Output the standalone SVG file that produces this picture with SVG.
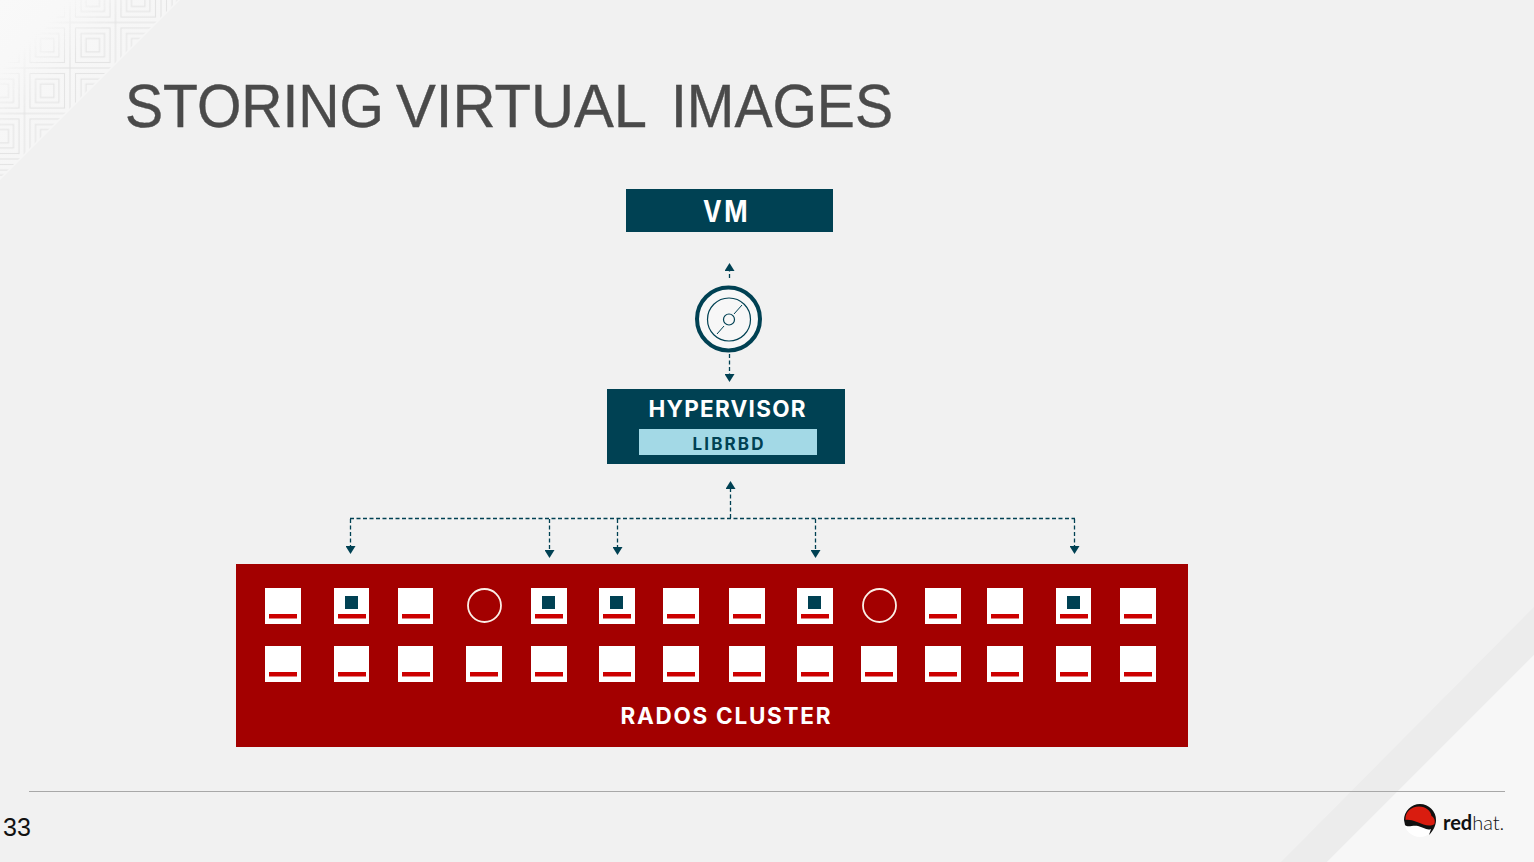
<svg xmlns="http://www.w3.org/2000/svg" xmlns:xlink="http://www.w3.org/1999/xlink" width="1534" height="862" viewBox="0 0 1534 862">
<style>
text{font-family:Inter,"Liberation Sans",sans-serif;font-weight:700;text-anchor:middle;fill:#fff}
.title{font-family:"Liberation Sans",Arial,sans-serif;font-weight:400;font-size:62px;fill:#4a4a4a;text-anchor:start;stroke:#4a4a4a;stroke-width:.4}
.navy{fill:#004153}
.conn{fill:none;stroke:#004153;stroke-width:1.3;stroke-dasharray:4 2.5}
.w{fill:#fff}
.bar{fill:#cc0000}
.ring{fill:none;stroke:#fbeee6;stroke-width:1.8}
.tile{fill:none;stroke:#e2e2e2;stroke-width:1}
</style>
<defs>
<marker id="arr" viewBox="0 0 8 10" refX="0" refY="5" markerWidth="8" markerHeight="10" markerUnits="userSpaceOnUse" orient="auto"><path d="M0 0L8 5L0 10Z" fill="#004153"/></marker>
<linearGradient id="tl" x1="0" y1="0" x2="1" y2="1"><stop offset="0" stop-color="#f9f9f9"/><stop offset="0.5" stop-color="#f6f6f6"/><stop offset="1" stop-color="#f2f2f2"/></linearGradient>
<linearGradient id="fade" gradientUnits="userSpaceOnUse" x1="35" y1="35" x2="80" y2="80"><stop offset="0" stop-color="#000"/><stop offset="0.7" stop-color="#fff"/></linearGradient>
<mask id="fm" maskUnits="userSpaceOnUse" x="0" y="0" width="200" height="200"><rect width="200" height="200" fill="url(#fade)"/></mask>
<clipPath id="tri"><path d="M0 0H178L0 178Z"/></clipPath>
<pattern id="geo" patternUnits="userSpaceOnUse" x="24.5" y="22.5" width="45.5" height="45.5">
<rect class="tile" x="0" y="0" width="45.5" height="45.5"/>
<rect class="tile" x="5.5" y="5.5" width="34.5" height="34.5"/>
<rect class="tile" x="11" y="11" width="23.5" height="23.5"/>
<rect class="tile" x="16" y="16" width="13.5" height="13.5"/>
</pattern>
<g id="disk"><rect class="w" width="36" height="36"/><rect class="bar" x="4" y="26" width="28" height="4.5"/></g>
<g id="diskb"><rect class="w" width="36" height="36"/><rect class="bar" x="4" y="26" width="28" height="4.5"/><rect class="navy" x="11" y="8" width="13" height="13"/></g>
<g id="disk35"><rect class="w" width="35" height="36"/><rect class="bar" x="4" y="26" width="28" height="4.5"/></g>
<g id="diskb35"><rect class="w" width="35" height="36"/><rect class="bar" x="4" y="26" width="28" height="4.5"/><rect class="navy" x="11" y="8" width="13" height="13"/></g>
</defs>

<rect id="background" width="1534" height="862" fill="#f1f1f1"/>
<path d="M0 0H180L0 180Z" fill="url(#tl)"/>
<g clip-path="url(#tri)"><rect width="180" height="180" fill="url(#geo)" mask="url(#fm)"/></g>
<path d="M1534 607V655L1327 862H1281Z" fill="#ececec"/>
<path d="M1534 655V862H1327Z" fill="#f7f7f7"/>

<text class="title" y="127"><tspan x="125" textLength="259" lengthAdjust="spacingAndGlyphs">STORING</tspan><tspan x="396" textLength="251" lengthAdjust="spacingAndGlyphs">VIRTUAL</tspan><tspan x="671" textLength="222" lengthAdjust="spacingAndGlyphs">IMAGES</tspan></text>

<g id="connectors">
<path class="conn" d="M729.5 278V271" marker-end="url(#arr)"/>
<path class="conn" d="M729.5 354V374" marker-end="url(#arr)"/>
<path class="conn" d="M730.5 518V489" marker-end="url(#arr)"/>
<path class="conn" d="M350 518.5H1075"/>
<path class="conn" d="M350.5 519V546" marker-end="url(#arr)"/>
<path class="conn" d="M549.5 519V550" marker-end="url(#arr)"/>
<path class="conn" d="M617.5 519V547" marker-end="url(#arr)"/>
<path class="conn" d="M815.5 519V550" marker-end="url(#arr)"/>
<path class="conn" d="M1074.5 519V546" marker-end="url(#arr)"/>
</g>

<g id="vm"><rect class="navy" x="626" y="189" width="207" height="43"/><text x="726.5" y="222" font-size="30" letter-spacing="3" textLength="47" lengthAdjust="spacingAndGlyphs">VM</text></g>

<g id="image">
<circle cx="728.5" cy="319" r="31.5" fill="#f7f7f7" stroke="#004153" stroke-width="4"/>
<circle cx="729" cy="319.5" r="21.5" fill="none" stroke="#004153" stroke-width="1.2"/>
<path d="M717 334L724 326M734 314L742 305" stroke="#004153" stroke-width="1" fill="none"/>
<circle cx="729" cy="319.5" r="5.5" fill="none" stroke="#004153" stroke-width="1.2"/>
</g>

<g id="hypervisor"><rect class="navy" x="607" y="389" width="238" height="75"/><text x="727" y="417" font-size="22.5" textLength="157" lengthAdjust="spacing">HYPERVISOR</text></g>
<g id="librbd"><rect x="639" y="429" width="178" height="26" fill="#a3d9e6"/><text class="navy" x="728" y="450" font-size="17" textLength="71" lengthAdjust="spacing">LIBRBD</text></g>

<g id="rados-cluster"><rect x="236" y="564" width="952" height="183" fill="#a30000"/><text x="725.5" y="724" font-size="22.5" textLength="210" lengthAdjust="spacing">RADOS CLUSTER</text></g>

<g id="osds-top">
<use xlink:href="#disk" href="#disk" x="265" y="588"/>
<use xlink:href="#diskb35" href="#diskb35" x="334" y="588"/>
<use xlink:href="#disk35" href="#disk35" x="398" y="588"/>
<circle class="ring" cx="484.5" cy="605.5" r="16.5"/>
<use xlink:href="#diskb" href="#diskb" x="531" y="588"/>
<use xlink:href="#diskb" href="#diskb" x="599" y="588"/>
<use xlink:href="#disk" href="#disk" x="663" y="588"/>
<use xlink:href="#disk" href="#disk" x="729" y="588"/>
<use xlink:href="#diskb" href="#diskb" x="797" y="588"/>
<circle class="ring" cx="879.5" cy="605.5" r="16.5"/>
<use xlink:href="#disk" href="#disk" x="925" y="588"/>
<use xlink:href="#disk" href="#disk" x="987" y="588"/>
<use xlink:href="#diskb35" href="#diskb35" x="1056" y="588"/>
<use xlink:href="#disk" href="#disk" x="1120" y="588"/>
</g>
<g id="osds-bottom">
<use xlink:href="#disk" href="#disk" x="265" y="646"/>
<use xlink:href="#disk35" href="#disk35" x="334" y="646"/>
<use xlink:href="#disk35" href="#disk35" x="398" y="646"/>
<use xlink:href="#disk" href="#disk" x="466" y="646"/>
<use xlink:href="#disk" href="#disk" x="531" y="646"/>
<use xlink:href="#disk" href="#disk" x="599" y="646"/>
<use xlink:href="#disk" href="#disk" x="663" y="646"/>
<use xlink:href="#disk" href="#disk" x="729" y="646"/>
<use xlink:href="#disk" href="#disk" x="797" y="646"/>
<use xlink:href="#disk" href="#disk" x="861" y="646"/>
<use xlink:href="#disk" href="#disk" x="925" y="646"/>
<use xlink:href="#disk" href="#disk" x="987" y="646"/>
<use xlink:href="#disk35" href="#disk35" x="1056" y="646"/>
<use xlink:href="#disk" href="#disk" x="1120" y="646"/>
</g>

<path id="rule" d="M29 791.5H1505" stroke="#a8a8a8" stroke-width="1"/>
<text x="3" y="836" font-size="25" style="font-family:'Liberation Sans',sans-serif;font-weight:400;fill:#111;text-anchor:start">33</text>

<g id="logo">
<circle cx="1420" cy="821" r="16" fill="#fff"/>
<path d="M1404 820A16 16 0 0 1 1436 820C1436 826 1433 831 1429 835L1431 829C1427 831 1423 827 1418 826C1412 825 1408 828 1405 825Z" fill="#111"/>
<path d="M1405.5 820C1405 812 1411 806.5 1419 806.5C1426 806.5 1431 811 1431.5 816C1434 817.5 1435.5 820 1434.5 824C1430 827 1424 825 1417 822C1412 820 1408 819.5 1405.5 820Z" fill="#d91c0f"/>
<text y="830" font-size="20" style="font-family:Lato,'Liberation Sans',sans-serif;fill:#111;text-anchor:start"><tspan x="1443" font-weight="700">red</tspan><tspan font-weight="300">hat.</tspan></text>
</g>
</svg>
